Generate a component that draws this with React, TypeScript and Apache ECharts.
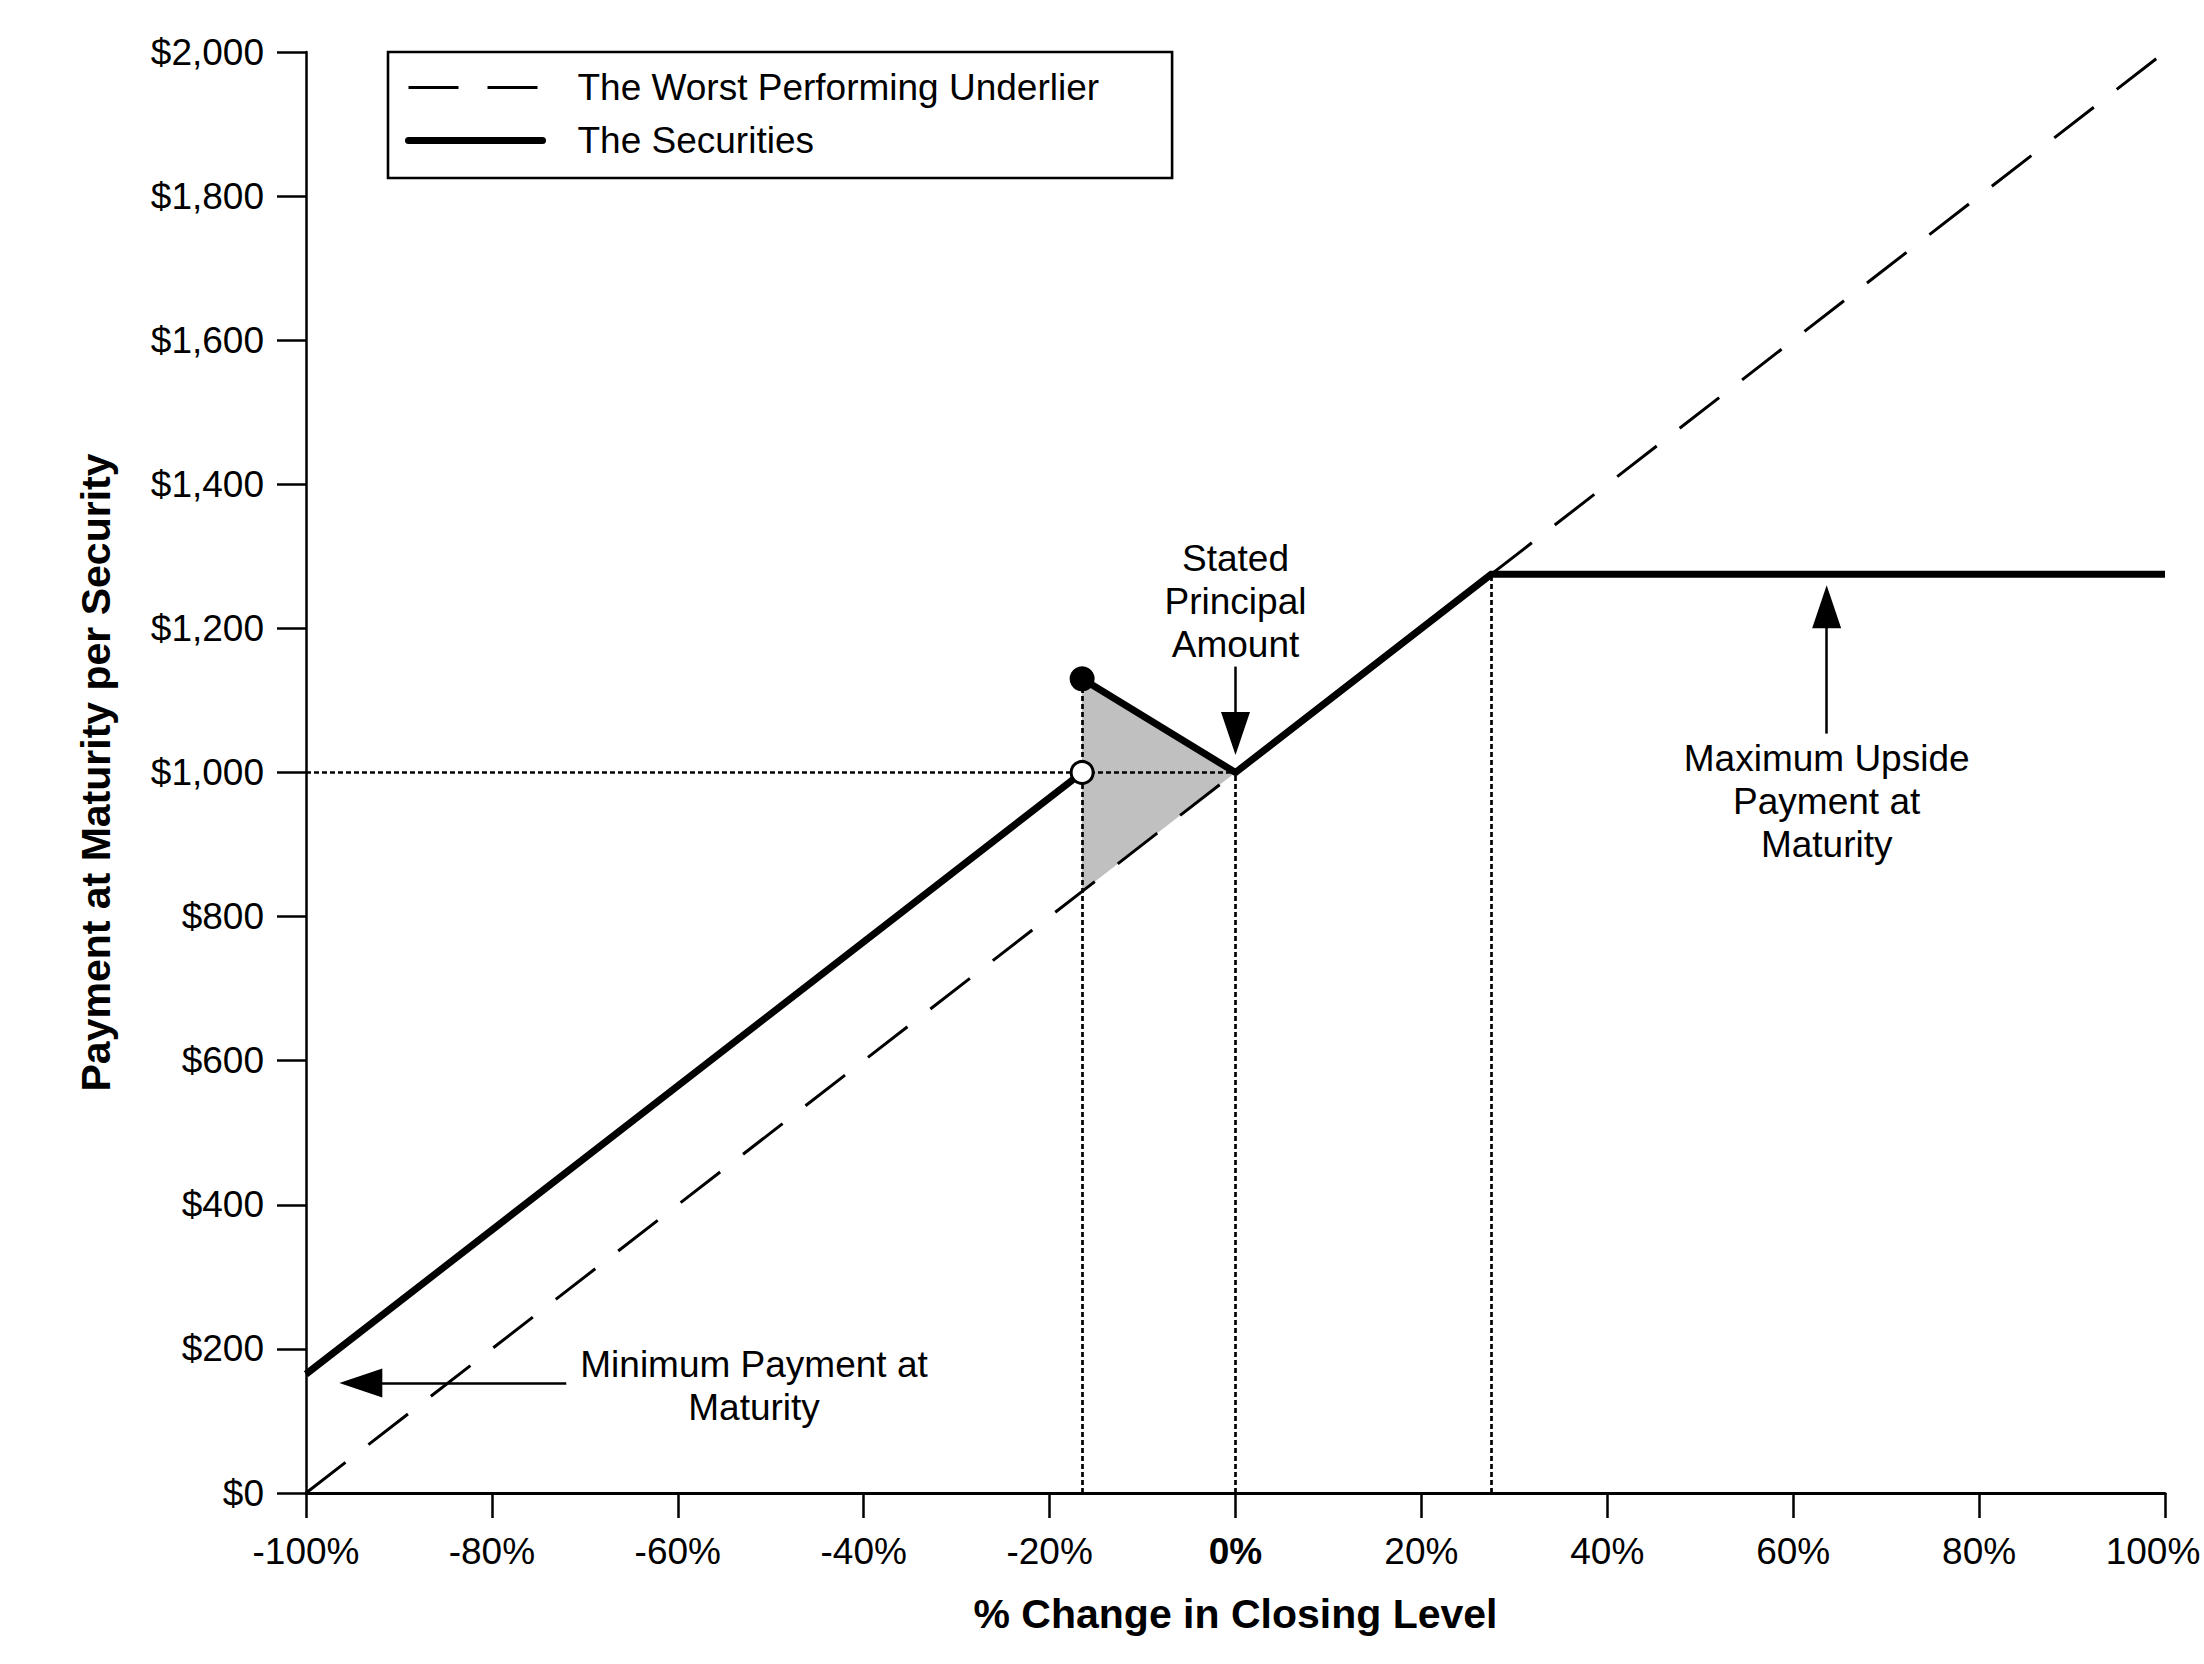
import React, { useEffect, useRef } from "react";
import * as echarts from "echarts";

const FONT = "'Liberation Sans', Arial, Helvetica, sans-serif";

const underlierX = [-100, 100];
const underlierY = [0, 2000];
const securitiesLowX = [-100, -16.5];
const securitiesLowY = [165, 1000];
const securitiesHighX = [-16.5, 0, 27.5, 100];
const securitiesHighY = [1130, 1000, 1275, 1275];
const openDot = [-16.5, 1000];
const filledDot = [-16.5, 1130];
const shadeX = [-16.5, 0, -16.5];
const shadeY = [1130, 1000, 835];
const guideLines = [
  [[-16.5, 0], [-16.5, 1130]],
  [[0, 0], [0, 1000]],
  [[27.5, 0], [27.5, 1275]],
  [[-100, 1000], [0, 1000]],
];
const arrows = [
  [[0, 1147], [0, 1054]],
  [[63.6, 1054], [63.6, 1230]],
  [[-72, 152.6], [-94.1, 152.6]],
];
const notes = [
  { text: "Stated\nPrincipal\nAmount", at: [0, 1237] },
  { text: "Maximum Upside\nPayment at\nMaturity", at: [63.6, 960] },
  { text: "Minimum Payment at\nMaturity", at: [-51.8, 148] },
];
const legendNames = ["The Worst Performing Underlier", "The Securities"];

function zip(xs: number[], ys: number[]) {
  return xs.map((x, i) => [x, ys[i]]);
}

export default function App() {
  const ref = useRef<HTMLDivElement>(null);
  useEffect(() => {
    if (!ref.current) return;
    const chart = echarts.init(ref.current, undefined, { renderer: "svg" });
    const option: any = {
      animation: false,
      backgroundColor: "#ffffff",
      textStyle: { fontFamily: FONT, color: "#000" },
      grid: { left: 306, right: 39, top: 52, bottom: 171, containLabel: false, outerBoundsMode: "none" },
      legend: {
        data: [
          {
            name: legendNames[0],
            lineStyle: { color: "#000", width: 3, type: [50, 29], cap: "butt" },
            itemStyle: { color: "rgba(0,0,0,0)", borderWidth: 0, opacity: 0 },
          },
          {
            name: legendNames[1],
            lineStyle: { color: "#000", width: 7, type: "solid", cap: "round" },
            itemStyle: { color: "rgba(0,0,0,0)", borderWidth: 0, opacity: 0 },
          },
        ],
        orient: "vertical",
        left: 388,
        top: 52,
        itemWidth: 134,
        itemHeight: 36,
        itemGap: 16,
        padding: [17, 73, 19, 17],
        borderColor: "#000",
        borderWidth: 2.6,
        selectedMode: false,
        textStyle: { fontFamily: FONT, fontSize: 37, color: "#000", lineHeight: 36, padding: [0, 0, 0, 30] },
      },
      xAxis: {
        type: "value",
        min: -100,
        max: 100,
        interval: 20,
        name: "% Change in Closing Level",
        nameLocation: "middle",
        nameGap: 100,
        nameTextStyle: { fontFamily: FONT, fontSize: 41, fontWeight: "bold", color: "#000" },
        axisLine: { show: true, onZero: false, lineStyle: { color: "#000", width: 3 } },
        axisTick: { show: true, inside: false, length: 25, lineStyle: { color: "#000", width: 2.5 } },
        axisLabel: {
          margin: 40,
          fontFamily: FONT,
          fontSize: 37,
          color: "#000",
          formatter: (v: number) => (v === 0 ? "{b|0%}" : v === 100 ? "{r|100%}" : `${v}%`),
          rich: {
            b: { fontFamily: FONT, fontSize: 37, fontWeight: "bold", color: "#000" },
            r: { fontFamily: FONT, fontSize: 37, color: "#000", padding: [0, 24, 0, 0] },
          },
        },
        splitLine: { show: false },
      },
      yAxis: {
        type: "value",
        min: 0,
        max: 2000,
        interval: 200,
        name: "Payment at Maturity per Security",
        nameLocation: "middle",
        nameGap: 190,
        nameTextStyle: { fontFamily: FONT, fontSize: 41, fontWeight: "bold", color: "#000" },
        axisLine: { show: true, onZero: false, lineStyle: { color: "#000", width: 2.5 } },
        axisTick: { show: true, inside: false, length: 29, lineStyle: { color: "#000", width: 2.5 } },
        axisLabel: {
          margin: 42,
          fontFamily: FONT,
          fontSize: 37,
          color: "#000",
          formatter: (v: number) => "$" + v.toLocaleString("en-US"),
        },
        splitLine: { show: false },
      },
      series: [
        {
          type: "custom",
          name: "shade",
          silent: true,
          z: 1,
          data: [[0, 0]],
          renderItem: (params: any, api: any) => {
            const pts = shadeX.map((x, i) => api.coord([x, shadeY[i]]));
            return { type: "polygon", shape: { points: pts }, style: { fill: "#c0c0c0" } };
          },
        },
        {
          type: "line",
          name: "guides",
          silent: true,
          z: 2,
          data: [],
          markLine: {
            silent: true,
            symbol: ["none", "none"],
            label: { show: false },
            lineStyle: { color: "#000", width: 2.7, type: [5, 3] },
            data: guideLines.map((l) => [{ coord: l[0] }, { coord: l[1] }]),
          },
        },
        {
          type: "line",
          name: legendNames[0],
          z: 3,
          symbol: "none",
          data: zip(underlierX, underlierY),
          lineStyle: { color: "#000", width: 3, type: [50, 29], cap: "butt" },
          itemStyle: { color: "#000" },
        },
        {
          type: "line",
          name: legendNames[1],
          z: 4,
          symbol: "none",
          data: zip(securitiesHighX, securitiesHighY),
          lineStyle: { color: "#000", width: 7, type: "solid", cap: "butt", join: "miter" },
          itemStyle: { color: "#000" },
        },
        {
          type: "line",
          name: legendNames[1],
          z: 4,
          symbol: "none",
          data: zip(securitiesLowX, securitiesLowY),
          lineStyle: { color: "#000", width: 7, type: "solid", cap: "butt", join: "miter" },
          itemStyle: { color: "#000" },
        },
        {
          type: "line",
          name: "arrows",
          silent: true,
          z: 5,
          data: [],
          markLine: {
            silent: true,
            symbol: ["none", "triangle"],
            symbolSize: [29, 43],
            label: { show: false },
            lineStyle: { color: "#000", width: 2.5, type: "solid" },
            itemStyle: { color: "#000" },
            data: arrows.map((l) => [{ coord: l[0] }, { coord: l[1] }]),
          },
        },
        {
          type: "scatter",
          name: "open",
          z: 6,
          symbol: "circle",
          symbolSize: 22,
          data: [openDot],
          itemStyle: { color: "#fff", borderColor: "#000", borderWidth: 3, opacity: 1 },
        },
        {
          type: "scatter",
          name: "filled",
          z: 6,
          symbol: "circle",
          symbolSize: 25,
          data: [filledDot],
          itemStyle: { color: "#000", opacity: 1 },
        },
        {
          type: "scatter",
          name: "notes",
          z: 7,
          silent: true,
          symbolSize: 1,
          itemStyle: { color: "rgba(0,0,0,0)", opacity: 1 },
          data: notes.map((n) => ({ value: n.at, name: n.text })),
          label: {
            show: true,
            position: "inside",
            formatter: (p: any) => p.name,
            fontFamily: FONT,
            fontSize: 37,
            lineHeight: 43,
            color: "#000",
            opacity: 1,
            align: "center",
            verticalAlign: "middle",
          },
        },
      ],
    };
    chart.setOption(option);
    return () => chart.dispose();
  }, []);
  return (
    <div
      ref={ref}
      style={{ position: "fixed", left: 0, top: 0, width: "2204px", height: "1664px", background: "#fff" }}
    />
  );
}
